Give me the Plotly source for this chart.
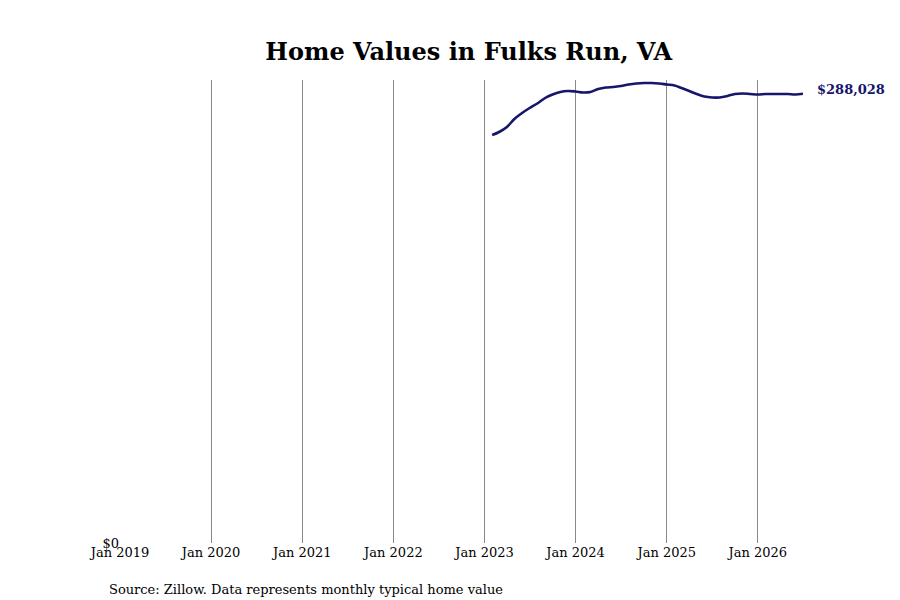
import plotly.graph_objects as go
import pandas as pd

# monthly typical home value, Feb 2023 - Jul 2026
months = pd.date_range("2023-02-01", "2026-07-01", freq="MS")
values = [261528, 263451, 266656, 271784, 275630, 278835, 281720, 285245, 287489, 289091, 289732,
          289412, 288771, 289091, 291014, 291976, 292296, 292937, 293899, 294540, 294860, 294860, 294540,
          293899, 293258, 291655, 289732, 287809, 286207, 285566, 285566, 286527, 287809, 288130, 287809,
          287489, 287809, 287809, 287809, 287809, 287489, 288028]
tick_dates = pd.date_range("2019-01-01", "2026-01-01", freq="YS")
tick_text = [d.strftime("Jan %Y") for d in tick_dates]

navy = "#16166b"
font = "DejaVu Serif"

fig = go.Figure()
fig.add_trace(go.Scatter(x=months, y=values, mode="lines",
                         line=dict(color=navy, width=2.6, shape="spline"),
                         hoverinfo="skip"))

fig.add_annotation(x=months[-1], y=values[-1], text=f"<b>${values[-1]:,}</b>",
                   showarrow=False, xanchor="left", xshift=12, yshift=4,
                   font=dict(family=font, size=13, color=navy))
fig.add_annotation(x=-0.019, y=-0.10, xref="paper", yref="paper", xanchor="left", yanchor="middle",
                   text="Source: Zillow. Data represents monthly typical home value",
                   showarrow=False, font=dict(family=font, size=13, color="black"))

fig.update_layout(
    width=900, height=600,
    margin=dict(l=112, r=105, t=72, b=65),
    paper_bgcolor="white", plot_bgcolor="white",
    showlegend=False,
    title=dict(text="<b>Home Values in Fulks Run, VA</b>", x=0.512, xanchor="center",
               y=0.927, yanchor="middle", font=dict(family=font, size=24, color="black")),
    font=dict(family=font, size=13, color="black"),
)
fig.update_xaxes(range=["2019-01-01", "2026-07-01"], tickvals=tick_dates, ticktext=tick_text,
                 showgrid=True, gridcolor="#8a8a8a", gridwidth=1, zeroline=False, automargin=False,
                 showline=False, ticks="", tickfont=dict(family=font, size=13))
fig.update_yaxes(range=[0, 463 * 641], tickvals=[0], ticktext=["$0"], showgrid=False, automargin=False,
                 zeroline=False, showline=False, ticks="", tickfont=dict(family=font, size=13))

fig.write_html("out.html")
